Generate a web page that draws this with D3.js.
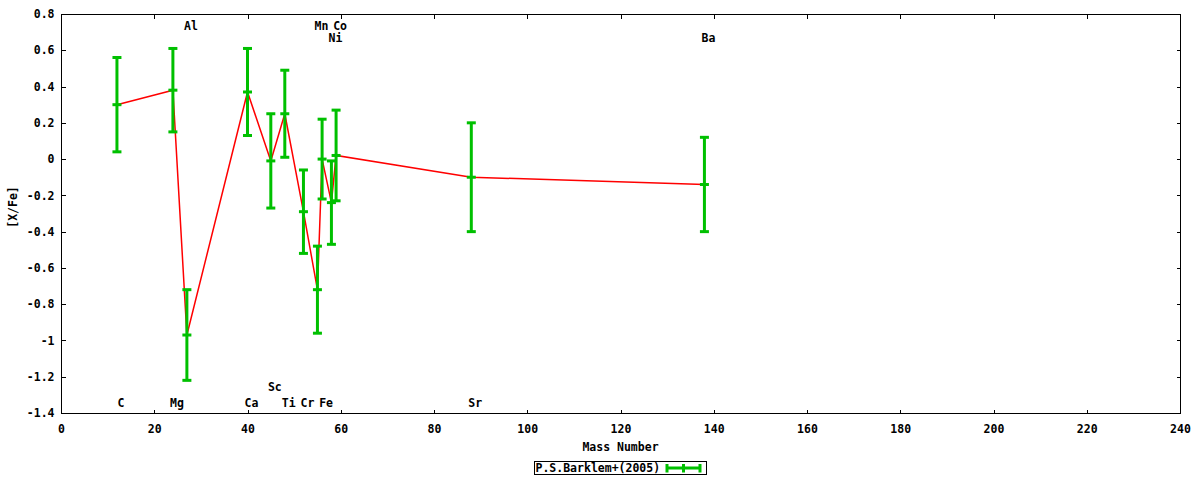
<!DOCTYPE html>
<html><head><meta charset="utf-8">
<script src="https://cdn.jsdelivr.net/npm/d3@7"></script>
<style>
body{margin:0;background:#fff}
text{font-family:"DejaVu Sans Mono",monospace;font-weight:bold;font-size:11.5px;fill:#000}
</style>
</head><body>
<svg id="c" width="1200" height="480"></svg>
<script>
// ---- data ----
const elements   = ["C","Mg","Al","Ca","Sc","Ti","Cr","Mn","Fe","Ni","Co","Sr","Ba"];
const massNumber = [12, 24, 27, 40, 45, 48, 52, 55, 56, 58, 59, 88, 138];
const xFe        = [0.30, 0.38, -0.97, 0.37, -0.01, 0.25, -0.29, -0.72, 0.00, -0.24, 0.02, -0.10, -0.14];
const xFeErr     = [0.26, 0.23, 0.25, 0.24, 0.26, 0.24, 0.23, 0.24, 0.22, 0.23, 0.25, 0.30, 0.26];
const labelY     = [-1.345,-1.345,0.735,-1.345,-1.257,-1.345,-1.345,0.735,-1.345,0.668,0.735,-1.345,0.668];
const xTicks = [0,20,40,60,80,100,120,140,160,180,200,220,240];
const yTicks = [0.8,0.6,0.4,0.2,0,-0.2,-0.4,-0.6,-0.8,-1,-1.2,-1.4];
const seriesName = "P.S.Barklem+(2005)";
const xTitle = "Mass Number";
const yTitle = "[X/Fe]";

// ---- layout ----
const L = 61, R = 1180, T = 14, B = 413;
const green = "#00c000", red = "#ff0000";
const svg = d3.select("#c");
svg.append("rect").attr("width",1200).attr("height",480).attr("fill","#fff");

const x = d3.scaleLinear().domain([0,240]).range([L,R]);
const y = d3.scaleLinear().domain([-1.4,0.8]).range([B,T]);
const fmt = d => String(+(+d).toFixed(1));

function styleAxis(g){
  g.select(".domain").remove();
  g.selectAll(".tick line").attr("stroke","#000").attr("stroke-width",1).attr("shape-rendering","crispEdges");
  g.selectAll(".tick text").attr("fill","#000").style("font-family",'"DejaVu Sans Mono",monospace')
    .style("font-weight","bold").style("font-size","11.5px");
}
svg.append("g").attr("transform",`translate(0,${B+0.5})`)
  .call(d3.axisBottom(x).tickValues(xTicks).tickFormat(fmt).tickSizeInner(-4).tickSizeOuter(0).tickPadding(11))
  .call(styleAxis);
svg.append("g").attr("transform",`translate(0,${T+0.5})`)
  .call(d3.axisTop(x).tickValues(xTicks).tickFormat("").tickSizeInner(-4).tickSizeOuter(0))
  .call(styleAxis);
svg.append("g").attr("transform",`translate(${L+0.5},0)`)
  .call(d3.axisLeft(y).tickValues(yTicks).tickFormat(fmt).tickSizeInner(-4).tickSizeOuter(0).tickPadding(7))
  .call(styleAxis);
svg.append("g").attr("transform",`translate(${R+0.5},0)`)
  .call(d3.axisRight(y).tickValues(yTicks).tickFormat("").tickSizeInner(-4).tickSizeOuter(0))
  .call(styleAxis);

// border
svg.append("rect").attr("x",L+0.5).attr("y",T+0.5).attr("width",R-L).attr("height",B-T)
  .attr("fill","none").attr("stroke","#000").attr("stroke-width",1).attr("shape-rendering","crispEdges");

// titles
svg.append("text").attr("x",(L+R)/2).attr("y",447).attr("dy","0.35em").attr("text-anchor","middle").text(xTitle);
svg.append("text").attr("transform","translate(13,207) rotate(-90)").attr("dy","0.35em").attr("text-anchor","middle").text(yTitle);

// data
const pts = elements.map((e,i)=>({e, m:massNumber[i], v:xFe[i], err:xFeErr[i], ly:labelY[i]}));

// element labels
svg.append("g").selectAll("text").data(pts).join("text")
  .attr("x",d=>x(d.m)+4).attr("y",d=>y(d.ly)).attr("dy","0.35em").attr("text-anchor","middle").text(d=>d.e);

// red line
svg.append("path").datum(pts)
  .attr("d",d3.line().x(d=>x(d.m)).y(d=>y(d.v)))
  .attr("fill","none").attr("stroke",red).attr("stroke-width",1.5);

// error bars
const eb = svg.append("g").selectAll("g").data(pts).join("g");
eb.append("line").attr("x1",d=>x(d.m)).attr("x2",d=>x(d.m))
  .attr("y1",d=>y(d.v+d.err)).attr("y2",d=>y(d.v-d.err))
  .attr("stroke",green).attr("stroke-width",3);
[d=>d.v+d.err, d=>d.v, d=>d.v-d.err].forEach(f=>{
  eb.append("line").attr("x1",d=>x(d.m)-4.5).attr("x2",d=>x(d.m)+4.5)
    .attr("y1",d=>y(f(d))).attr("y2",d=>y(f(d)))
    .attr("stroke",green).attr("stroke-width",3);
});

// legend
svg.append("rect").attr("x",534.5).attr("y",461.5).attr("width",172).attr("height",13)
  .attr("fill","#fff").attr("stroke","#000").attr("stroke-width",1).attr("shape-rendering","crispEdges");
svg.append("text").attr("x",535.5).attr("y",471.5).text(seriesName);
const lg = svg.append("g");
lg.append("line").attr("x1",666).attr("x2",701).attr("y1",468).attr("y2",468).attr("stroke",green).attr("stroke-width",3);
[667,683.5,700].forEach(px=>{
  lg.append("line").attr("x1",px).attr("x2",px).attr("y1",464).attr("y2",472.5).attr("stroke",green).attr("stroke-width",3);
});
</script>
</body></html>
